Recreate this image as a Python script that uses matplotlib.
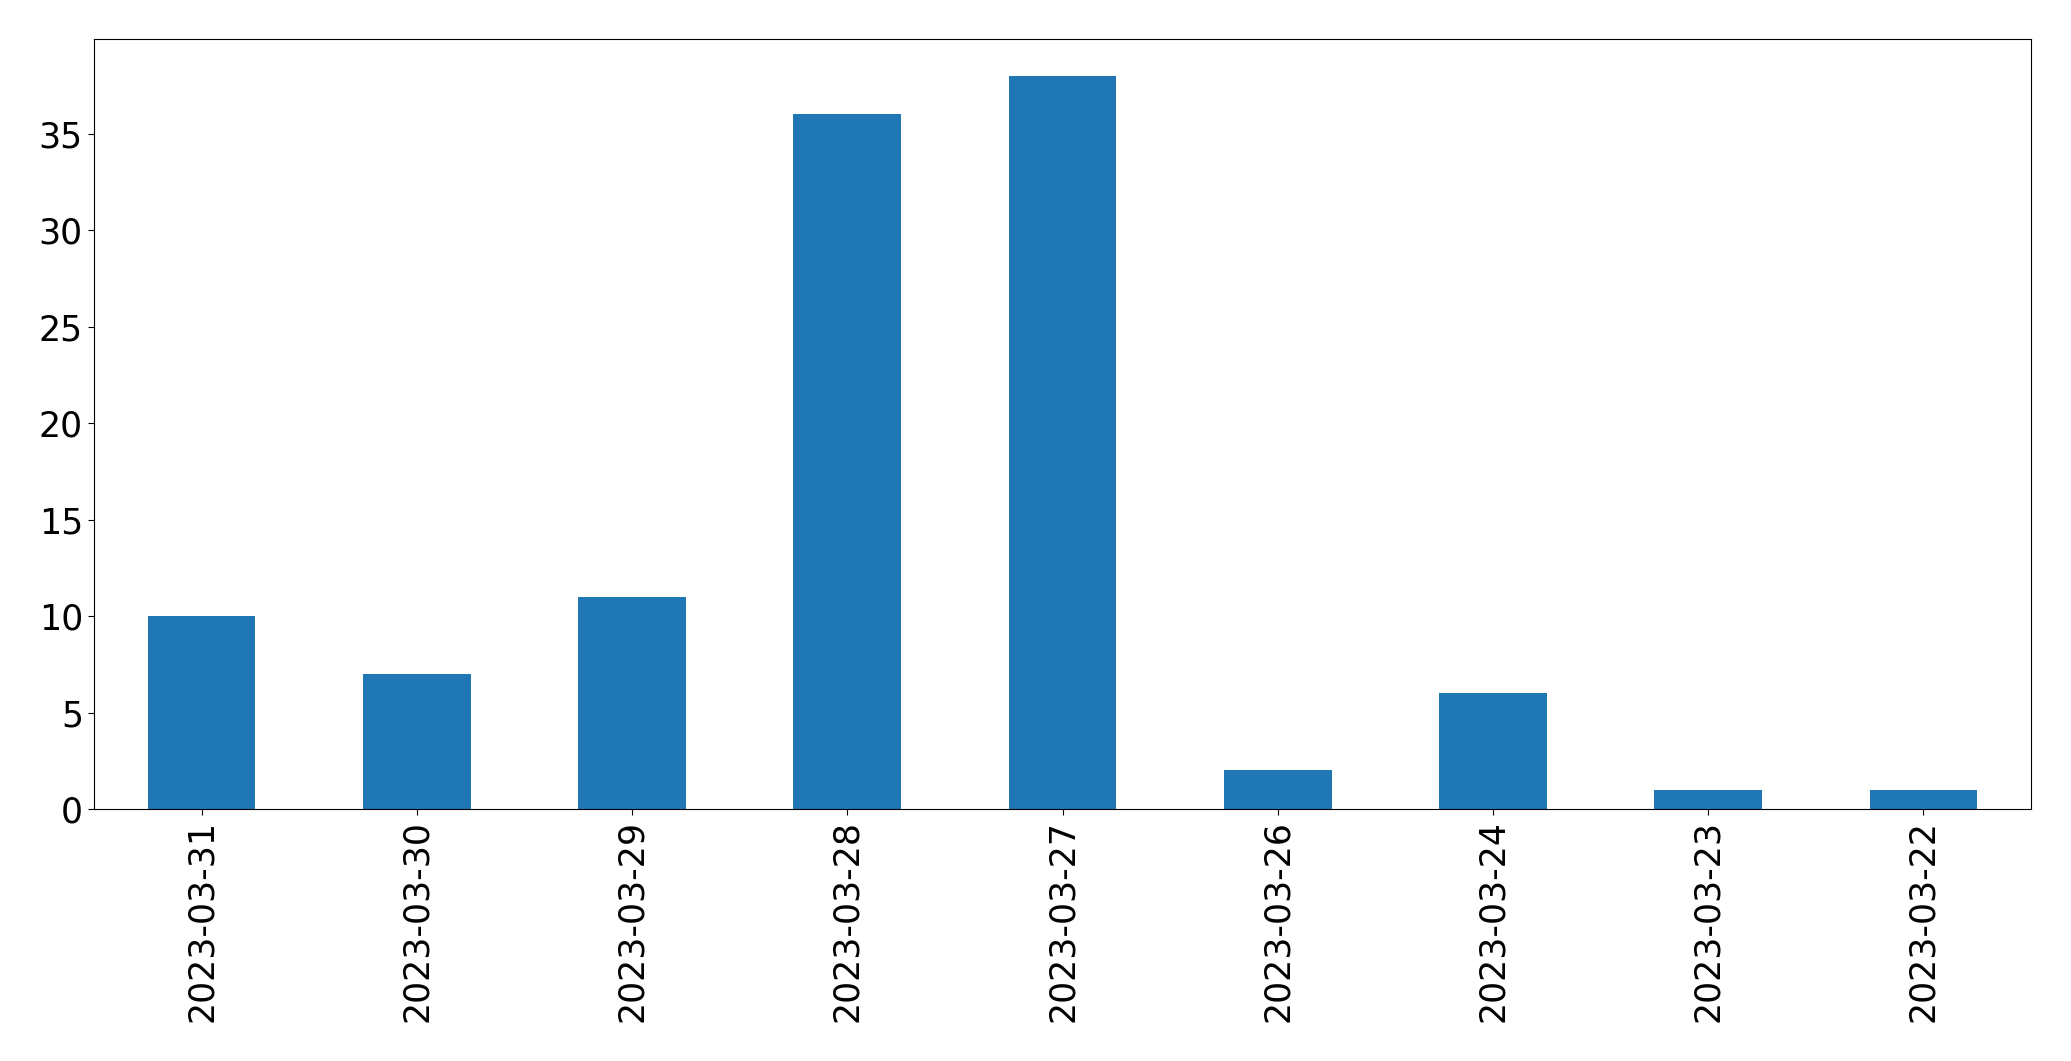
import matplotlib
matplotlib.use("Agg")
import matplotlib.pyplot as plt
import pandas as pd

# Datos
dates = ["2023-03-31", "2023-03-30", "2023-03-29", "2023-03-28", "2023-03-27",
         "2023-03-26", "2023-03-24", "2023-03-23", "2023-03-22"]
counts = [10, 7, 11, 36, 38, 2, 6, 1, 1]

serie = pd.Series(counts, index=dates)

fig = plt.figure(figsize=(20.71, 10.61), dpi=100)
ax = fig.add_axes([94 / 2071, 1 - 809 / 1061, (2031 - 94) / 2071, (809 - 39) / 1061])

serie.plot(kind="bar", ax=ax, color="#1f77b4")

ax.tick_params(axis="both", labelsize=25, length=4.5)

fig.savefig("out.png", dpi=100)
